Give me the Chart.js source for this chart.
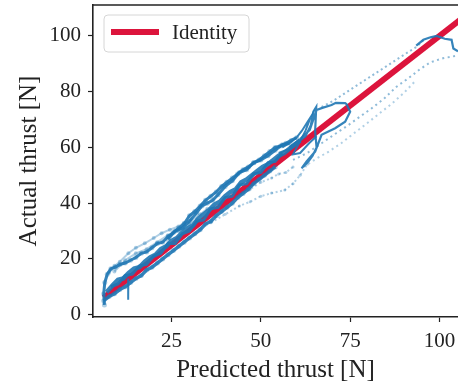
<!DOCTYPE html>
<html>
<head>
<meta charset="utf-8">
<script src="https://cdn.jsdelivr.net/npm/chart.js@4.4.0/dist/chart.umd.min.js"></script>
<style>
  body { margin: 0; background: #fff; }
  canvas { display: block; }
</style>
</head>
<body>
<canvas id="thrustChart" width="458" height="383"></canvas>
<script>
// tick labels
const xTicks = [25, 50, 75, 100];
const yTicks = [0, 20, 40, 60, 80, 100];

// identity line
const identityX = [6, 110];
const identityY = [6, 110];

// dense traces along the diagonal
const denseAx = [6.2, 6.0, 6.3, 7.0, 8.0, 9.2, 10.5, 12.0, 13.5, 15.0, 16.5, 18.0, 19.5, 21.0, 22.5, 24.0, 25.5, 27.0, 28.5, 30.0, 31.5, 33.0, 34.5, 36.0, 37.5, 39.0, 40.5, 42.0, 43.5, 45.0, 46.5, 48.0, 49.5, 51.0, 52.5, 54.0, 55.5, 57.0, 58.5, 60.0];
const denseAy = [3.5, 7.5, 11.5, 14.5, 16.5, 17.0, 18.0, 18.5, 19.5, 20.5, 22.0, 22.5, 24.0, 25.5, 26.0, 28.0, 29.5, 31.0, 32.5, 35.5, 37.0, 39.0, 41.0, 42.5, 44.0, 46.0, 47.5, 49.0, 50.5, 52.0, 53.0, 54.5, 55.5, 57.0, 58.5, 60.0, 60.5, 61.5, 62.5, 63.5];

const denseBx = [6.8, 8.5, 10, 11.5, 13, 14.5, 16, 17.5, 19, 20.5, 22, 23.5, 25, 26.5, 28, 29.5, 31, 32.5, 34, 35.5, 37, 38.5, 40, 41.5, 43, 44.5, 46, 47.5, 49, 50.5, 52, 53.5, 55, 56.5, 58, 59.5, 61];
const denseBy = [8, 10.5, 12.5, 13, 15, 16.5, 17, 19, 20.5, 21.5, 23.5, 24.5, 26.5, 27.5, 29.5, 31, 32, 34.5, 36, 37.5, 39.5, 40.5, 42.5, 44, 45, 47.5, 48.5, 50, 51.5, 53, 54, 55.5, 57, 58, 59.5, 61, 62.5];

const denseCx = [6.0, 7.5, 9, 10.5, 12, 13.5, 15, 16.5, 18, 19.5, 21, 22.5, 24, 25.5, 27, 28.5, 30, 31.5, 33, 34.5, 36, 37.5, 39, 40.5, 42, 43.5, 45, 46.5, 48, 49.5, 51, 52.5, 54];
const denseCy = [5.0, 6.5, 7.5, 9.0, 10.0, 11.5, 13.0, 14.0, 16.0, 17.0, 18.5, 20.0, 21.5, 23.0, 24.5, 26.0, 27.5, 29.0, 30.5, 32.5, 33.5, 35.5, 37.0, 38.5, 40.0, 42.0, 43.5, 45.0, 47.0, 48.5, 50.0, 51.5, 53.0];

const denseDx = [24, 26, 28, 30, 32, 33.5, 35, 36.5, 38, 40, 42, 44, 46, 48, 50, 52, 54, 56, 58];
const denseDy = [27, 30, 31, 33.5, 36.5, 39, 40, 41, 43, 46, 48, 51, 52, 54.5, 55.5, 57, 59, 61, 61.5];

const denseEx = [8, 10, 12, 14, 16, 18, 20, 22, 24, 26, 28, 30, 32, 34, 36, 38, 40, 42, 44, 46, 48, 50, 52, 54, 56];
const denseEy = [10, 11, 14, 14.5, 17.5, 18, 21, 22, 25.5, 25.5, 29, 30, 33.5, 34, 38, 38.5, 42, 42.5, 46.5, 47, 50.5, 51, 54.5, 55, 58];

const spikeX = [12.9, 12.8, 12.9];
const spikeY = [13, 5.3, 12];

// lighter traces
const lightUpX = [7.5, 9, 10.5, 12.9, 15, 17.5, 20, 22.2, 24.5, 26.9, 28.5, 30.6, 33, 35];
const lightUpY = [15, 17.5, 19, 22, 24, 25.6, 27.5, 29.2, 30.5, 31.6, 33, 34, 36, 38];
const lightUp2X = [9, 12, 15, 18, 21, 24, 27, 30, 32];
const lightUp2Y = [15.5, 19.5, 22, 23.5, 26, 28.5, 30, 32.5, 34];
const lightLowX = [36, 40, 44, 47, 50, 53, 56.7, 59, 61, 63];
const lightLowY = [33, 36, 39, 40.5, 42.5, 43.6, 44.7, 47, 50, 54];
const lightMidX = [44, 47, 50, 53, 55, 57, 59];
const lightMidY = [43, 45, 47.5, 49, 50.5, 51, 53];

// loops around 55-75 N
const loopX = [55, 57, 58.5, 60.5, 62.5, 64, 64.7, 65.5, 65.2, 65.6, 64.5, 63.3, 61.4, 62.8, 65.2, 67, 70.8, 73.6, 75, 74, 73.6, 71, 69.8, 67, 65.6, 63.7, 61, 58];
const loopY = [58, 59, 59.7, 62.1, 64, 68, 72.8, 74.5, 65.7, 60, 57, 54.9, 52.5, 55, 58.5, 64.5, 66.9, 69.2, 72.8, 75.5, 75.9, 76, 75.2, 74.1, 73.4, 66.3, 63, 60];
const loop2X = [56, 58, 60, 61.5, 63, 64, 62.5, 60.5, 59, 61, 63.5, 65.6];
const loop2Y = [60, 61.5, 63.5, 66, 69, 71, 66, 61, 57.5, 58, 61.5, 64];

// sparse dotted traces at high thrust
const dotUpX = [67, 70, 73, 76, 79, 82, 85, 88, 91, 93.5, 95.5];
const dotUpY = [74.5, 76.5, 79, 81.5, 84, 86.5, 89, 91.5, 94, 96, 98.4];
const dotLow1X = [59, 63, 67, 71, 74.5, 77.7, 81, 84.5, 88, 91.5, 94.5, 97.4, 101, 105.2];
const dotLow1Y = [55.5, 58, 61.5, 65, 68, 71, 74, 77.5, 81.8, 85, 88, 90.5, 92, 93];
const dotLow2X = [62, 65.6, 69, 72.5, 76, 79.6, 83, 86.5, 90, 93];
const dotLow2Y = [53, 56, 58.5, 61.5, 65, 68.5, 72, 75.5, 79.5, 83.5];
const topX = [93.5, 95.5, 97.5, 99.2, 101.5, 103.4, 103.9, 105.2];
const topY = [96.5, 98.6, 99.5, 100, 99, 98.6, 95.5, 94.5];

const pts = (xs, ys) => xs.map((x, i) => ({ x: x, y: ys[i] }));

const blue = "rgba(31,119,180,0.9)";
const blueLight = "rgba(31,119,180,0.35)";
const blueDots = "rgba(31,119,180,0.5)";
const ink = "#222";
const serif = "'Liberation Serif', 'Times New Roman', serif";

function trace(xs, ys, color, width, dash, dotR) {
  return {
    data: pts(xs, ys),
    borderColor: color,
    borderWidth: width,
    borderDash: dash || [],
    pointRadius: dotR || 0,
    pointBorderWidth: 0,
    pointBackgroundColor: blueLight,
    showLine: true,
    tension: 0,
  };
}

// legend + top spine
const frameAndLegend = {
  id: "frameAndLegend",
  afterDatasetsDraw(chart) {
    const { ctx, chartArea } = chart;
    ctx.save();
    ctx.strokeStyle = ink;
    ctx.lineWidth = 1.6;
    ctx.beginPath();
    ctx.moveTo(chartArea.left, chartArea.top);
    ctx.lineTo(chartArea.right, chartArea.top);
    ctx.stroke();

    const ds = chart.data.datasets[chart.data.datasets.length - 1];
    const x = chartArea.left + 11, y = chartArea.top + 10;
    ctx.beginPath();
    ctx.roundRect(x, y, 145, 37, 4);
    ctx.fillStyle = "rgba(255,255,255,0.8)";
    ctx.fill();
    ctx.strokeStyle = "#d6d6d6";
    ctx.lineWidth = 1;
    ctx.stroke();

    ctx.strokeStyle = ds.borderColor;
    ctx.lineWidth = 6;
    ctx.beginPath();
    ctx.moveTo(x + 7, y + 17);
    ctx.lineTo(x + 55, y + 17);
    ctx.stroke();

    ctx.fillStyle = ink;
    ctx.font = "21px " + serif;
    ctx.textBaseline = "middle";
    ctx.fillText(ds.label, x + 68, y + 18);
    ctx.restore();
  },
};

new Chart(document.getElementById("thrustChart"), {
  type: "scatter",
  data: {
    datasets: [
      trace(lightUpX, lightUpY, blueLight, 2, [], 2),
      trace(lightUp2X, lightUp2Y, blueLight, 2, [], 2),
      trace(lightLowX, lightLowY, blueLight, 2, [2, 2.5], 1.5),
      trace(lightMidX, lightMidY, blueLight, 2, [2, 2.5], 1.5),
      trace(dotUpX, dotUpY, blueDots, 2, [2, 3]),
      trace(dotLow1X, dotLow1Y, blueDots, 2, [2, 3.5]),
      trace(dotLow2X, dotLow2Y, blueLight, 2, [2, 3.5]),
      trace(denseCx, denseCy, blue, 3.5, [], 2.5),
      trace(denseDx, denseDy, blue, 3, [], 2.5),
      trace(denseEx, denseEy, blue, 3),
      trace(denseAx, denseAy, blue, 3, [], 2.5),
      trace(denseBx, denseBy, blue, 4.5),
      trace(spikeX, spikeY, blue, 2),
      trace(loopX, loopY, blue, 2.2),
      trace(loop2X, loop2Y, blue, 2),
      trace(topX, topY, blue, 2.2),
      {
        label: "Identity",
        data: pts(identityX, identityY),
        borderColor: "#dc143c",
        borderWidth: 6,
        pointRadius: 0,
        showLine: true,
      },
    ],
  },
  options: {
    responsive: false,
    animation: false,
    devicePixelRatio: 1,
    layout: { autoPadding: false, padding: { top: 5, right: 0, left: 0, bottom: 0 } },
    plugins: { legend: { display: false }, tooltip: { enabled: false } },
    scales: {
      x: {
        type: "linear",
        min: 3,
        max: 105.2,
        afterBuildTicks: (s) => { s.ticks = xTicks.map((v) => ({ value: v })); },
        afterFit: (s) => { s.height = 66; s.paddingLeft = 0; s.paddingRight = 0; },
        ticks: { font: { family: serif, size: 21 }, color: ink, padding: 7, maxRotation: 0 },
        grid: { drawOnChartArea: false, tickLength: 5, tickWidth: 1.2, tickColor: ink },
        border: { color: ink, width: 1.6 },
        title: {
          display: true,
          text: "Predicted thrust [N]",
          color: ink,
          font: { family: serif, size: 25, lineHeight: 1 },
          padding: { top: 0, bottom: 0 },
        },
      },
      y: {
        type: "linear",
        min: -0.85,
        max: 111.1,
        afterBuildTicks: (s) => { s.ticks = yTicks.map((v) => ({ value: v })); },
        afterFit: (s) => { s.width = 93; s.paddingTop = 0; s.paddingBottom = 0; },
        ticks: { font: { family: serif, size: 21 }, color: ink, padding: 7 },
        grid: { drawOnChartArea: false, tickLength: 5, tickWidth: 1.2, tickColor: ink },
        border: { color: ink, width: 1.6 },
        title: {
          display: true,
          text: "Actual thrust [N]",
          color: ink,
          font: { family: serif, size: 25, lineHeight: 1 },
          padding: { top: 17, bottom: 0 },
        },
      },
    },
  },
  plugins: [frameAndLegend],
});
</script>
</body>
</html>
